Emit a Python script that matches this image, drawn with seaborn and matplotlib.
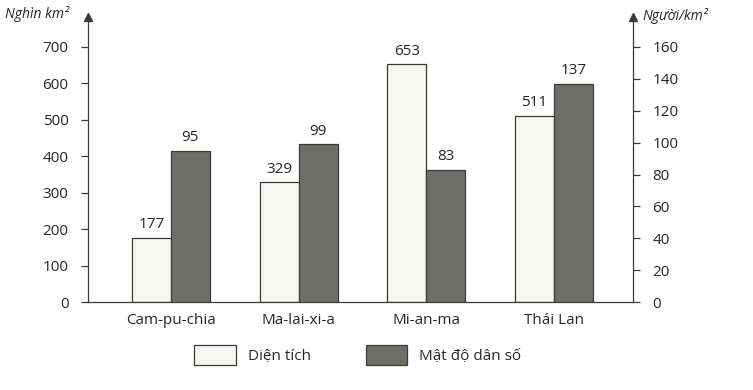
import matplotlib
matplotlib.use("Agg")
import matplotlib.pyplot as plt
from matplotlib.patches import Patch
import numpy as np
import pandas as pd
import seaborn as sns

countries = ["Cam-pu-chia", "Ma-lai-xi-a", "Mi-an-ma", "Thái Lan"]
area = [177, 329, 653, 511]        # nghìn km2
density = [95, 99, 83, 137]        # người/km2
series = ["Diện tích", "Mật độ dân số"]

LIGHT = "#f6f6f3"
DARK = "#6f6e69"
EDGE = "#3a3a3a"
TXT = "#262626"

sns.set_theme(style="white")
plt.rcParams["font.family"] = ["Open Sans", "DejaVu Sans"]

n = len(countries)
df = pd.DataFrame({
    "country": countries * 2,
    "series": [series[0]] * n + [series[1]] * n,
    "area": area + [np.nan] * n,
    "density": [np.nan] * n + density,
})

fig = plt.figure(figsize=(7.53, 3.90), dpi=100)
ax = fig.add_axes([88 / 753, 88 / 390, (633 - 88) / 753, (302 - 17) / 390])
ax2 = ax.twinx()

pal = {series[0]: LIGHT, series[1]: DARK}
sns.barplot(data=df, x="country", y="area", hue="series", hue_order=series,
            palette=pal, width=0.61, edgecolor=EDGE, linewidth=0.9,
            errorbar=None, legend=False, ax=ax)
sns.barplot(data=df, x="country", y="density", hue="series", hue_order=series,
            palette=pal, width=0.61, edgecolor=EDGE, linewidth=0.9,
            errorbar=None, legend=False, ax=ax2)

for a in (ax, ax2):
    for cont in a.containers:
        for bar, v in zip(cont, cont.datavalues):
            if np.isfinite(v):
                a.annotate(f"{v:.0f}", (bar.get_x() + bar.get_width() / 2, v),
                           xytext=(0, 4), textcoords="offset points",
                           ha="center", va="bottom", fontsize=11, color=TXT)

ax.set_xlim(-0.65, 3.62)
ax.set_ylim(0, 700 * 285 / 255)
ax2.set_ylim(0, 160 * 285 / 255)
ax.set_yticks(range(0, 701, 100))
ax2.set_yticks(range(0, 161, 20))
ax.set_xlabel("")
ax.set_ylabel("")
ax2.set_ylabel("")

for a in (ax, ax2):
    for s in a.spines.values():
        s.set_visible(False)
    a.tick_params(axis="y", length=5, width=0.9, color=EDGE, labelsize=11,
                  labelcolor=TXT, pad=9)
ax.spines["left"].set_visible(True)
ax.spines["bottom"].set_visible(True)
ax2.spines["right"].set_visible(True)
for s in (ax.spines["left"], ax.spines["bottom"], ax2.spines["right"]):
    s.set_color(EDGE)
    s.set_linewidth(0.9)
ax.tick_params(axis="y", left=True, direction="out")
ax2.tick_params(axis="y", right=True, direction="out")
ax.tick_params(axis="x", length=0, labelsize=11, labelcolor=TXT, pad=8)

# arrow heads on vertical axes
ax.plot(0, 1, "^", color=EDGE, markersize=6, transform=ax.transAxes, clip_on=False)
ax.plot(1, 1, "^", color=EDGE, markersize=6, transform=ax.transAxes, clip_on=False)

fig.text(5 / 753, 1 - 14 / 390, "Nghìn km²", fontsize=10, style="italic",
         color=TXT, ha="left", va="center")
fig.text(642 / 753, 1 - 16 / 390, "Người/km²", fontsize=10, style="italic",
         color=TXT, ha="left", va="center")

handles = [Patch(facecolor=LIGHT, edgecolor=EDGE, linewidth=0.9),
           Patch(facecolor=DARK, edgecolor=EDGE, linewidth=0.9)]
fig.legend(handles, series, loc="center", bbox_to_anchor=(358 / 753, 1 - 355 / 390),
           ncol=2, frameon=False, fontsize=11, handlelength=2.7, handleheight=1.6,
           handletextpad=0.8, columnspacing=3.6, labelcolor=TXT)

fig.savefig("out.png", dpi=100)
